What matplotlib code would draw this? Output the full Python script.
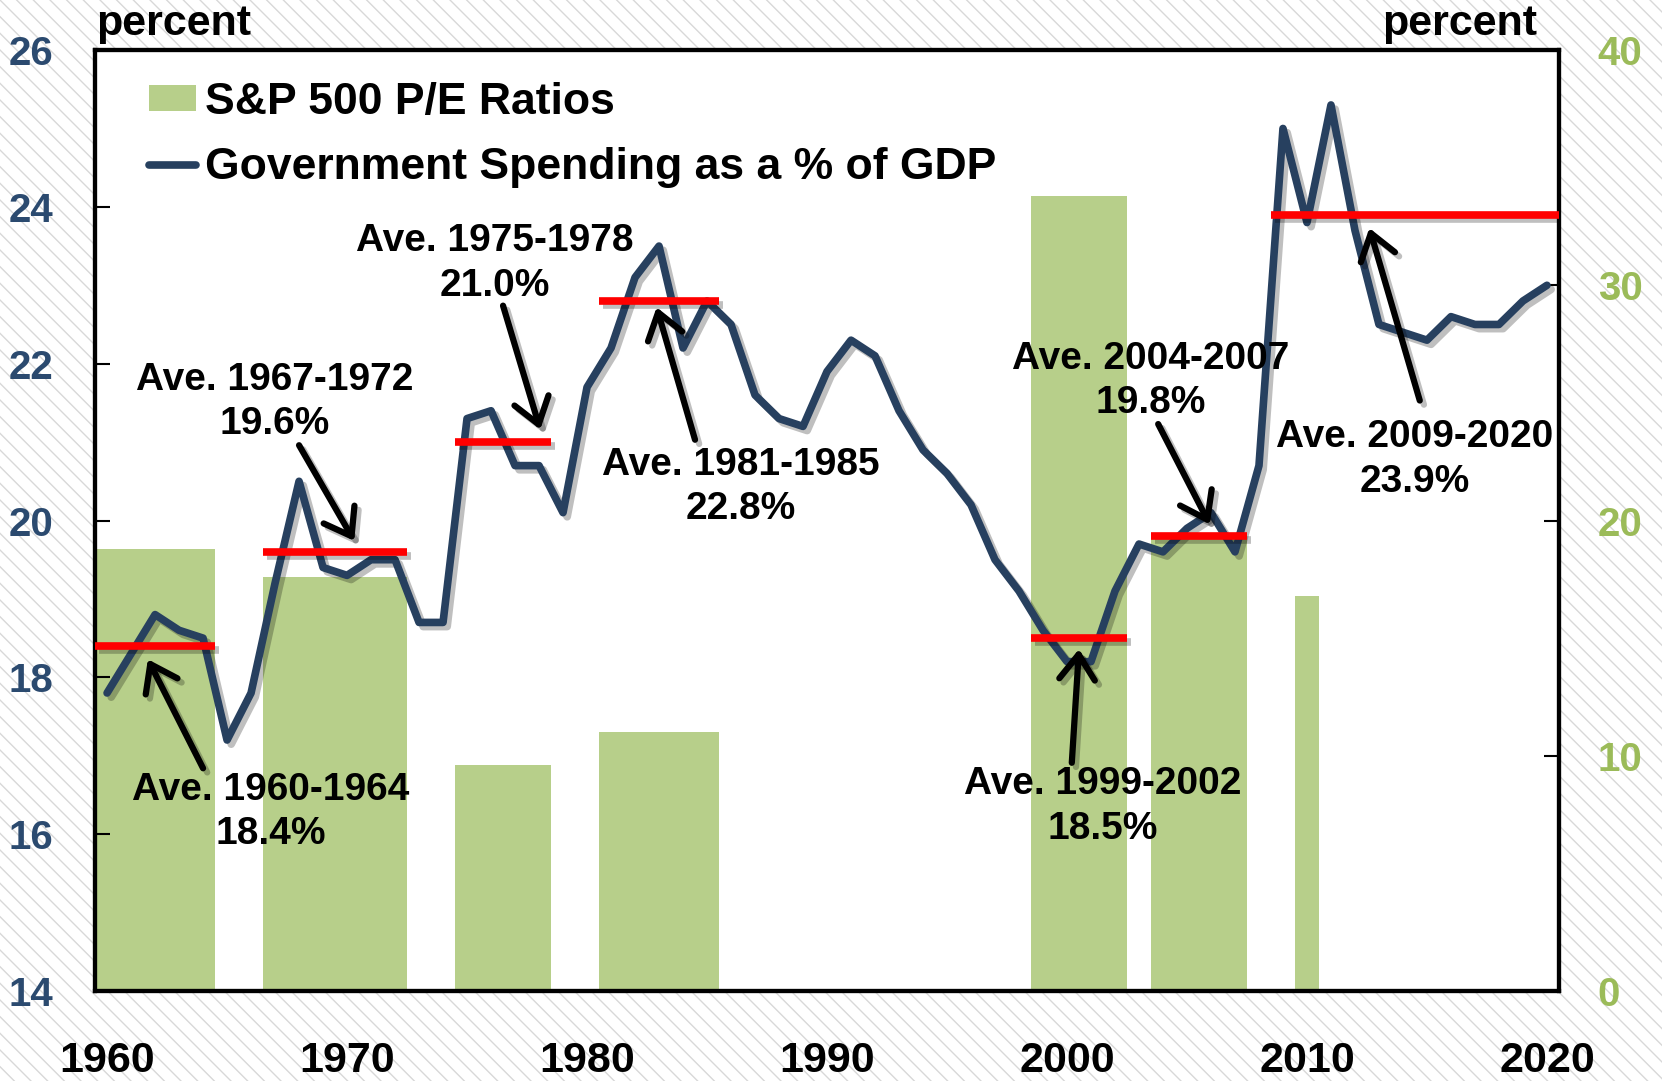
import matplotlib.pyplot as plt
import matplotlib.patheffects as pe
from matplotlib.patches import Rectangle, Patch
from matplotlib.lines import Line2D

plt.rcParams['font.family'] = ['Liberation Sans', 'DejaVu Sans']
plt.rcParams['font.weight'] = 'bold'
plt.rcParams['hatch.linewidth'] = 1.0

# Данные
years = list(range(1960, 2021))
gov_spending = [17.8, 18.3, 18.8, 18.6, 18.5, 17.2, 17.8, 19.2, 20.5, 19.4,
                19.3, 19.5, 19.5, 18.7, 18.7, 21.3, 21.4, 20.7, 20.7, 20.1,
                21.7, 22.2, 23.1, 23.5, 22.2, 22.8, 22.5, 21.6, 21.3, 21.2,
                21.9, 22.3, 22.1, 21.4, 20.9, 20.6, 20.2, 19.5, 19.1, 18.6,
                18.2, 18.2, 19.1, 19.7, 19.6, 19.9, 20.1, 19.6, 20.7, 25.0,
                23.8, 25.3, 23.7, 22.5, 22.4, 22.3, 22.6, 22.5, 22.5, 22.8,
                23.0]

pe_start = [1960, 1967, 1975, 1981, 1999, 2004, 2010]
pe_end = [1964, 1972, 1978, 1985, 2002, 2007, 2010]
pe_ratio = [18.8, 17.6, 9.6, 11.0, 33.8, 19.4, 16.8]

avg_start = [1960, 1967, 1975, 1981, 1999, 2004, 2009]
avg_end = [1964, 1972, 1978, 1985, 2002, 2007, 2020]
avg_value = [18.4, 19.6, 21.0, 22.8, 18.5, 19.8, 23.9]

# положение подписей и стрелок (год, значение по левой оси)
label_xy = [(1967.3, 16.28), (1967.5, 21.51), (1976.65, 23.28), (1986.9, 20.43),
            (2002.0, 16.35), (2004.0, 21.78), (2015.0, 20.78)]
arrow_tail = [(1964.5, 16.84), (1968.5, 20.96), (1977.0, 22.74), (1985.0, 21.03),
              (2000.7, 16.91), (2004.3, 21.23), (2015.2, 21.53)]
arrow_head = [(1962.2, 18.23), (1970.8, 19.74), (1978.55, 21.16), (1983.4, 22.72),
              (2001.0, 18.36), (2006.45, 19.95), (2013.1, 23.73)]

navy = '#27405F'
green_bar = '#B7CF8A'
green_txt = '#9BBB59'
left_txt = '#2B4A6F'

fig = plt.figure(figsize=(16.62, 10.81), dpi=100)
bg = Rectangle((0, 0), 1, 1, transform=fig.transFigure, facecolor='white',
               edgecolor='#D8D8D8', linewidth=0, hatch='\\\\', zorder=-10)
fig.patches.append(bg)

ax2 = fig.add_axes([0.0572, 0.0833, 0.8808, 0.8704])
ax = ax2.twinx()
ax.set_zorder(ax2.get_zorder() + 1)
ax.patch.set_visible(False)
ax2.set_facecolor('white')

# столбцы P/E по правой оси
for s, e, v in zip(pe_start, pe_end, pe_ratio):
    ax2.bar(s, v, width=e - s + 1, align='edge', color=green_bar, linewidth=0, zorder=1)

# линия госрасходов
shadow = [pe.SimpleLineShadow(offset=(3, -3), shadow_color='black', alpha=0.25), pe.Normal()]
xs = [y + 0.5 for y in years]
ax.plot(xs, gov_spending, color=navy, lw=5.5, solid_joinstyle='round',
        solid_capstyle='round', path_effects=shadow, zorder=3)

# средние значения
for s, e, v in zip(avg_start, avg_end, avg_value):
    ax.plot([s, e + 1], [v, v], color='#FF0000', lw=5.5, solid_capstyle='butt',
            path_effects=shadow, zorder=4)

for (s, e, v), txy, t, h in zip(zip(avg_start, avg_end, avg_value), label_xy, arrow_tail, arrow_head):
    ax.text(txy[0], txy[1], f'Ave. {s}-{e}\n{v:.1f}%', ha='center', va='center',
            fontsize=28, fontweight='bold', linespacing=1.3, zorder=6)
    an = ax.annotate('', xy=h, xytext=t,
                     arrowprops=dict(arrowstyle='->,head_length=0.45,head_width=0.32',
                                     color='black', lw=4.5, mutation_scale=40,
                                     shrinkA=0, shrinkB=0), zorder=6)
    an.arrow_patch.set_path_effects([pe.SimpleLineShadow(offset=(3, -3), alpha=0.25),
                                     pe.Normal()])

ax.set_xlim(1960, 2021)
ax.set_ylim(14, 26)
ax2.set_ylim(0, 40)
ax.yaxis.tick_left()
ax2.yaxis.tick_right()

ax.set_yticks(range(14, 27, 2))
ax2.set_yticks(range(0, 41, 10))
ax2.set_xticks(range(1960, 2021, 10))
ax2.set_xticklabels([])
ax2.set_xticks([y + 0.5 for y in range(1960, 2021, 10)], minor=True)
ax2.set_xticklabels([str(y) for y in range(1960, 2021, 10)], minor=True)
ax.set_xticks([])

ax2.tick_params(axis='x', which='major', direction='in', length=11, width=1.5)
ax2.tick_params(axis='x', which='minor', length=0, pad=36, labelsize=31)
ax.tick_params(axis='y', direction='in', length=11, width=1.5, pad=30,
               labelsize=29, labelcolor=left_txt)
ax2.tick_params(axis='y', direction='in', length=11, width=1.5, pad=28,
                labelsize=29, labelcolor=green_txt)

for a in (ax, ax2):
    for sp in a.spines.values():
        sp.set_linewidth(3)
        sp.set_color('black')

fig.text(0.058, 0.968, 'percent', fontsize=31, fontweight='bold', ha='left', va='baseline')
fig.text(0.925, 0.968, 'percent', fontsize=31, fontweight='bold', ha='right', va='baseline')

handles = [Patch(facecolor=green_bar, edgecolor='none'),
           Line2D([0], [0], color=navy, lw=5.5, solid_capstyle='round')]
ax.legend(handles, ['S&P 500 P/E Ratios', 'Government Spending as a % of GDP'],
          loc='upper left', bbox_to_anchor=(0.025, 0.985), frameon=False,
          fontsize=32, handlelength=1.05, handleheight=0.5, handletextpad=0.2,
          labelspacing=0.55, borderaxespad=0)

fig.savefig('out.png', dpi=100)
